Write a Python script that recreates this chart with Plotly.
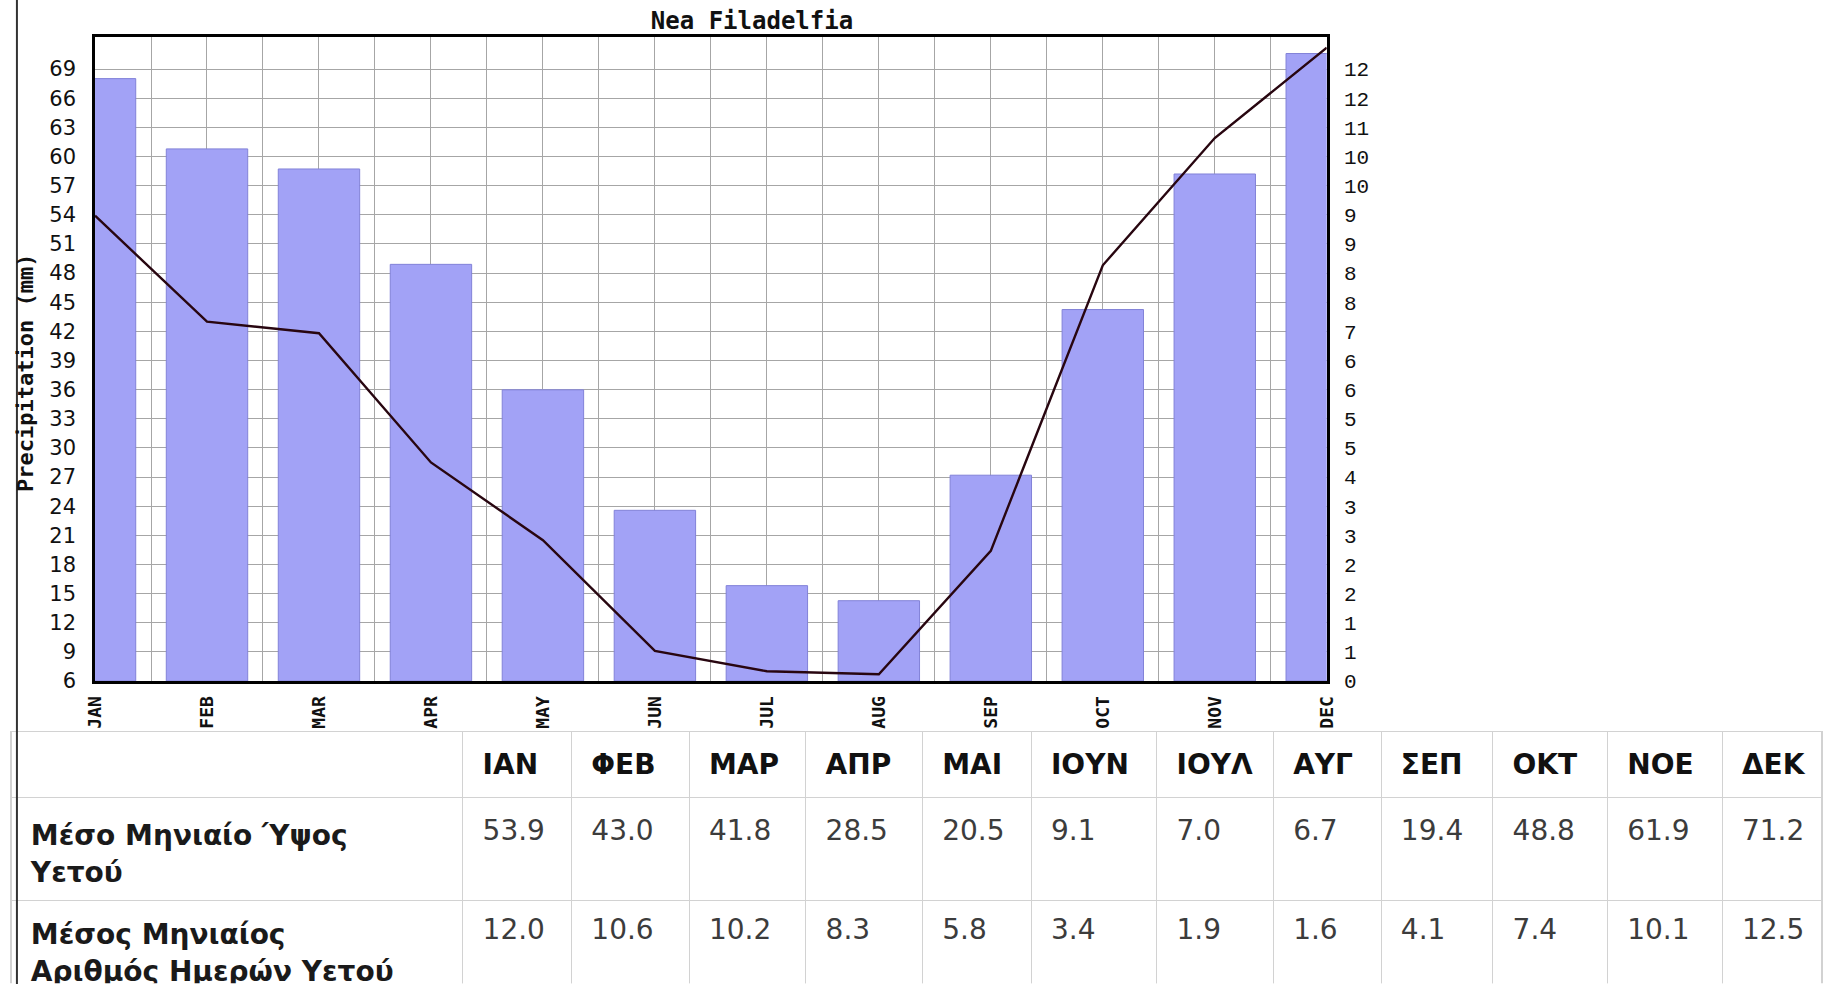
import plotly.graph_objects as go

# ---------------- data ----------------
months = ["JAN", "FEB", "MAR", "APR", "MAY", "JUN", "JUL", "AUG", "SEP", "OCT", "NOV", "DEC"]
months_gr = ["ΙΑΝ", "ΦΕΒ", "ΜΑΡ", "ΑΠΡ", "ΜΑΙ", "ΙΟΥΝ", "ΙΟΥΛ", "ΑΥΓ", "ΣΕΠ", "ΟΚΤ", "ΝΟΕ", "ΔΕΚ"]
precip_mm = [53.9, 43.0, 41.8, 28.5, 20.5, 9.1, 7.0, 6.7, 19.4, 48.8, 61.9, 71.2]
rain_days = [12.0, 10.6, 10.2, 8.3, 5.8, 3.4, 1.9, 1.6, 4.1, 7.4, 10.1, 12.5]
left_ticks = [6, 9, 12, 15, 18, 21, 24, 27, 30, 33, 36, 39, 42, 45, 48, 51, 54, 57, 60, 63, 66, 69]
right_tick_text = ["0", "1", "1", "2", "2", "3", "3", "4", "5", "5", "6", "6",
                   "7", "8", "8", "9", "9", "10", "10", "11", "12", "12"]
row_labels = ["Μέσο Μηνιαίο Ύψος<br>Υετού", "Μέσος Μηνιαίος<br>Αριθμός Ημερών Υετού"]
chart_title = "Nea Filadelfia"
y_title = "Precipitation (mm)"

# ---------------- geometry / style ----------------
W, H = 1832, 997
px_x = lambda p: p / W
px_y = lambda p: 1 - p / H
left_range = [6, 72.35]
k = 0.1935  # rain-day units per mm on the shared grid
right_range = [0, (left_range[1] - left_range[0]) * k]
right_tickvals = [(t - left_range[0]) * k for t in left_ticks]

BAR_FILL = "#a2a2f6"
BAR_EDGE = "#8282d8"
GRID = "#a6a6a6"
MONO = "DejaVu Sans Mono"
SANS = "DejaVu Sans"
TABLE_LINE = "#d2d2d2"

fig = go.Figure()

fig.add_trace(go.Bar(
    x=months, y=rain_days, xaxis="x", yaxis="y",
    width=0.727, marker=dict(color=BAR_FILL, line=dict(color=BAR_EDGE, width=1)),
    showlegend=False, hoverinfo="x+y",
))
fig.add_trace(go.Scatter(
    x=months, y=precip_mm, xaxis="x2", yaxis="y2", mode="lines",
    line=dict(color="#280610", width=2.4), showlegend=False,
))

# ---------------- table ----------------
col_widths = [457, 110, 119, 118, 118, 110, 127, 118, 109, 113, 116, 116, 101]
ncol = len(col_widths)
# grid (cell borders)
fig.add_trace(go.Table(
    domain=dict(x=[0, 1], y=[0, px_y(741)]),
    columnwidth=col_widths,
    header=dict(values=[""] * ncol, height=66,
                fill=dict(color="white"), line=dict(color=TABLE_LINE, width=1.2)),
    cells=dict(values=[["", ""]] * ncol, height=103,
               fill=dict(color="white"), line=dict(color=TABLE_LINE, width=1.2)),
))
# text, inset inside the cells
dx = 12
text_widths = col_widths[:-1] + [col_widths[-1] - dx]
header_vals = [""] + ["<b>%s</b>" % m for m in months_gr]
cell_vals = [["<b>%s</b>" % r for r in row_labels]] + [
    ["%.1f" % p, "%.1f" % d] for p, d in zip(precip_mm, rain_days)
]
fig.add_trace(go.Table(
    domain=dict(x=[px_x(dx), 1], y=[0, px_y(750)]),
    columnwidth=text_widths,
    header=dict(values=header_vals, align="left", height=71,
                fill=dict(color="rgba(0,0,0,0)"), line=dict(color="rgba(0,0,0,0)", width=0),
                font=dict(family=SANS, size=28, color="#111111")),
    cells=dict(values=cell_vals, align="left", height=99,
               fill=dict(color="rgba(0,0,0,0)"), line=dict(color="rgba(0,0,0,0)", width=0),
               font=dict(family=SANS, size=28, color=["#1a1a1a"] + ["#3c3c3c"] * 12)),
))

fig.update_layout(
    width=W, height=H,
    margin=dict(l=0, r=0, t=0, b=0),
    paper_bgcolor="white", plot_bgcolor="white",
    title=dict(text="<b>%s</b>" % chart_title, x=px_x(752), y=px_y(21),
               xanchor="center", yanchor="middle",
               font=dict(family=MONO, size=24, color="#111111")),
    xaxis=dict(
        type="category", categoryorder="array", categoryarray=months,
        domain=[px_x(85), px_x(1331)], range=[0, 11],
        tickson="boundaries", showgrid=True, gridcolor=GRID, gridwidth=1,
        ticks="", tickangle=-90, ticklabelstandoff=5,
        tickfont=dict(family=MONO, size=18, color="#111111", weight="bold"),
        showline=True, mirror=True, linecolor="black", linewidth=3,
        zeroline=False, fixedrange=True,
    ),
    xaxis2=dict(
        type="category", categoryorder="array", categoryarray=months,
        overlaying="x", range=[0, 11], showgrid=True, gridcolor=GRID, gridwidth=1,
        showticklabels=False, ticks="", showline=False, zeroline=False,
    ),
    yaxis=dict(
        domain=[px_y(690), px_y(37)], range=right_range, side="right",
        tickvals=right_tickvals, ticktext=right_tick_text, ticks="",
        ticklabelstandoff=10,
        tickfont=dict(family="Liberation Mono", size=21, color="#111111"),
        showgrid=False, zeroline=False,
        showline=True, mirror=True, linecolor="black", linewidth=3,
    ),
    yaxis2=dict(
        overlaying="y", side="left", range=left_range, tickvals=left_ticks,
        showgrid=True, gridcolor=GRID, gridwidth=1, zeroline=False, ticks="",
        ticklabelstandoff=18,
        tickfont=dict(family=SANS, size=21, color="#111111"),
        showline=False,
    ),
    annotations=[dict(text="<b>%s</b>" % y_title, textangle=-90,
                      xref="paper", yref="paper", x=px_x(14), y=px_y(378),
                      xanchor="center", yanchor="middle", showarrow=False,
                      font=dict(family=MONO, size=22, color="#111111"))],
    shapes=[dict(type="line", xref="paper", yref="paper", x0=px_x(6), x1=px_x(6),
                 y0=0, y1=1, line=dict(color="#333333", width=2))],
)

fig.write_html(
    "out.html",
    config={"displayModeBar": False},
    post_script="document.body.style.margin='0px';document.body.style.overflow='hidden';",
)
